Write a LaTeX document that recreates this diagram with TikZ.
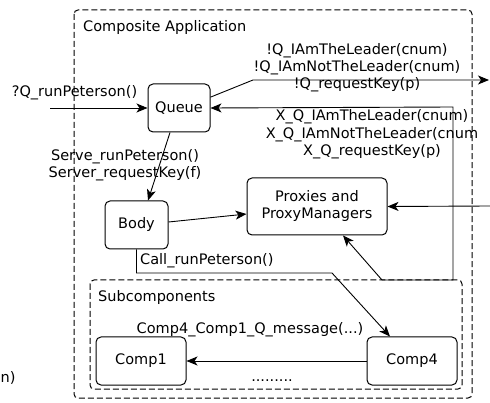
\documentclass[tikz,border=0pt]{standalone}
\usepackage{fontspec}
\setmainfont{DejaVu Sans}
\usetikzlibrary{arrows.meta,calc}
\tikzset{
  box/.style={draw, rounded corners=5pt, line width=1pt, inner sep=0pt},
  grp/.style={draw, rounded corners=4pt, line width=1pt, dash pattern=on 6pt off 3pt},
  lbl/.style={inner sep=0pt, align=center},
  arr/.style={line width=0.9pt, -{Stealth[length=11pt,width=9pt,inset=3pt]}},
  ln/.style={line width=0.9pt}
}
\begin{document}
\begin{tikzpicture}[x=1pt,y=-1pt,font=\fontsize{14.5}{17}\selectfont]
\useasboundingbox (0,0) rectangle (490,403);
% groups
\draw[grp] (74,10) rectangle (472,398);
\draw[grp] (90,280) rectangle (462,389);
\node[lbl,anchor=west] (tcomp) at (83,28) {Composite Application};
\node[lbl,anchor=west] (tsub) at (98,297) {Subcomponents};
% boxes
\node[box,minimum width=62pt,minimum height=48pt] (Queue) at (179,108) {Queue};
\node[box,minimum width=63pt,minimum height=48pt] (Body) at (136.5,225) {Body};
\node[box,minimum width=140pt,minimum height=57pt,align=center] (Proxies) at (317,206.5) {Proxies and\\ProxyManagers};
\node[box,minimum width=90pt,minimum height=48pt] (Comp1) at (141,361) {Comp1};
\node[box,minimum width=90pt,minimum height=48pt] (Comp4) at (412,361) {Comp4};
% free ends
\coordinate (in1) at (50,108);
\coordinate (out1) at (489,80);
\coordinate (in2) at (490,206);
\coordinate (s1) at (382,280);
% connectors
\draw[arr] (in1) -- (Queue.west);
\draw[arr] (Queue.19.5) -- (253,80) -- (out1);
\draw[arr] (s1) -- (453,280) -- (453,107) -- (Queue.east);
\draw[arr] (s1) -- ($(Proxies.south)+(26,0)$);
\draw[arr] ($(Queue.south)+(-9,0)$) -- ($(Body.north)+(11.5,0)$);
\draw[arr] ($(Body.east)+(0,-3)$) -- ($(Proxies.west)+(0,7.5)$);
\draw[arr] (in2) -- (Proxies.east);
\draw[arr] (Body.south) |- (332,273) -- ($(Comp4.north)+(-22,0)$);
\draw[arr] (Comp4.west) -- (Comp1.east);
% labels
\node[lbl] (lq) at (74.5,93) {?Q\_runPeterson()};
\node[lbl] (lout) at (357,68) {!Q\_IAmTheLeader(cnum)\\!Q\_IAmNotTheLeader(cnum)\\!Q\_requestKey(p)};
\node[lbl] (lx1) at (372,117) {X\_Q\_IAmTheLeader(cnum)};
\node[lbl] (lx2) at (372,135) {X\_Q\_IAmNotTheLeader(cnum};
\node[lbl] (lx3) at (372,152) {X\_Q\_requestKey(p)};
\node[lbl] (lserve) at (125,165.5) {Serve\_runPeterson()\\Server\_requestKey(f)};
\node[lbl,anchor=west] (lcall) at (140,261) {Call\_runPeterson()};
\node[lbl] (lmsg) at (250,330) {Comp4\_Comp1\_Q\_message(...)};
\node[lbl] (ldots) at (272,381) {.........};
\node[lbl,anchor=west] (ln) at (0.5,378) {n)};
\end{tikzpicture}
\end{document}
